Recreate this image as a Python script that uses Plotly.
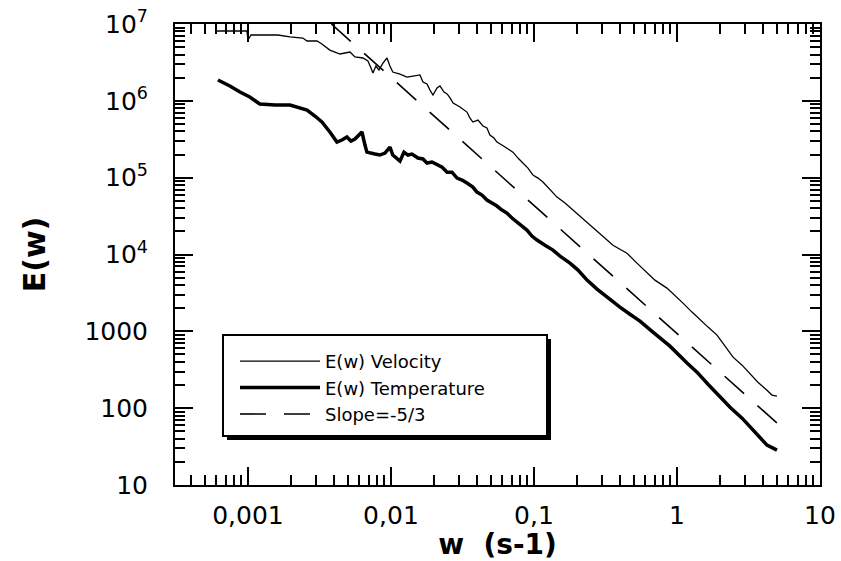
import plotly.graph_objects as go

# ---- data (w in s^-1, E(w)) ----
vel_w = [6.07e-4, 9.84e-4, 1.0e-3, 1.05e-3, 1.62e-3, 1.97e-3, 2.42e-3, 2.59e-3, 3.04e-3, 3.29e-3,
         3.74e-3, 4.40e-3, 5.17e-3, 5.60e-3, 6.37e-3, 6.90e-3, 7.25e-3, 7.48e-3, 7.85e-3, 8.24e-3,
         8.79e-3, 9.38e-3, 9.84e-3, 0.0103, 0.01156, 0.01294, 0.01425, 0.01595, 0.01674, 0.01786,
         0.01875, 0.01967, 0.0210, 0.0220, 0.0235, 0.0247, 0.0259, 0.0272, 0.0304, 0.0340,
         0.0357, 0.0374, 0.0406, 0.0440, 0.0469, 0.0492, 0.0525, 0.0551, 0.0597, 0.0647,
         0.0713, 0.0773, 0.0837, 0.0908, 0.0984, 0.1067, 0.1156, 0.1294, 0.1449, 0.1648,
         0.1875, 0.2203, 0.2588, 0.304, 0.357, 0.399, 0.447, 0.525, 0.617, 0.701,
         0.851, 0.968, 1.101, 1.273, 1.449, 1.648, 1.905, 2.168, 2.466, 2.851,
         3.236, 3.68, 4.26, 4.61, 5.0]
vel_E = [8.11e6, 8.11e6, 6.19e6, 7.19e6, 7.19e6, 6.78e6, 6.57e6, 6.01e6, 6.01e6, 5.49e6,
         4.58e6, 4.07e6, 4.32e6, 3.72e6, 3.61e6, 3.30e6, 2.67e6, 2.30e6, 2.84e6, 2.52e6,
         3.10e6, 3.61e6, 2.84e6, 2.37e6, 2.23e6, 2.04e6, 2.10e6, 2.17e6, 1.76e6, 1.66e6,
         1.38e6, 1.19e6, 1.47e6, 1.56e6, 1.30e6, 1.23e6, 1.09e6, 9.36e5, 8.30e5, 7.14e5,
         5.97e5, 5.30e5, 5.62e5, 4.70e5, 4.43e5, 3.59e5, 3.28e5, 2.91e5, 2.66e5, 2.43e5,
         2.15e5, 1.80e5, 1.55e5, 1.33e5, 1.08e5, 9.88e4, 8.77e4, 6.90e4, 5.58e4, 4.67e4,
         3.78e4, 2.98e4, 2.28e4, 1.74e4, 1.32e4, 1.17e4, 1.04e4, 7730, 5730, 4640,
         3650, 2870, 2330, 1780, 1400, 1135, 893, 641, 461, 363,
         286, 218, 171, 148, 143]

temp_w = [6.17e-4, 7.48e-4, 8.79e-4, 1.03e-3, 1.21e-3, 1.55e-3, 1.97e-3, 2.31e-3, 2.59e-3, 2.94e-3,
          3.29e-3, 3.74e-3, 4.19e-3, 4.54e-3, 4.92e-3, 5.25e-3, 5.60e-3, 6.07e-3, 6.27e-3, 6.58e-3,
          6.79e-3, 7.73e-3, 8.37e-3, 9.08e-3, 9.53e-3, 9.84e-3, 0.0103, 0.0110, 0.01156, 0.01233,
          0.01315, 0.01403, 0.01545, 0.01674, 0.01786, 0.01936, 0.0210, 0.0228, 0.0247, 0.0267,
          0.0290, 0.0314, 0.0340, 0.0374, 0.0399, 0.0433, 0.0469, 0.0508, 0.0551, 0.0597,
          0.0647, 0.0702, 0.0760, 0.0824, 0.0893, 0.0968, 0.1050, 0.1194, 0.1358, 0.1521,
          0.1786, 0.2032, 0.235, 0.276, 0.324, 0.368, 0.399, 0.469, 0.551, 0.679,
          0.798, 0.893, 1.175, 1.380, 1.648, 2.000, 2.350, 2.851, 3.40, 3.80,
          4.26, 5.0]
temp_E = [1.87e6, 1.56e6, 1.30e6, 1.12e6, 9.08e5, 8.81e5, 8.81e5, 8.05e5, 7.59e5, 6.34e5,
          5.30e5, 3.93e5, 2.91e5, 3.09e5, 3.38e5, 3.00e5, 3.18e5, 3.70e5, 3.93e5, 2.66e5,
          2.15e5, 2.03e5, 1.97e5, 2.09e5, 2.29e5, 2.50e5, 1.97e5, 1.80e5, 1.64e5, 2.15e5,
          1.97e5, 2.03e5, 1.80e5, 1.75e5, 1.55e5, 1.60e5, 1.46e5, 1.37e5, 1.18e5, 1.18e5,
          9.88e4, 9.31e4, 8.51e4, 7.55e4, 6.49e4, 5.93e4, 5.11e4, 4.67e4, 4.27e4, 3.78e4,
          3.46e4, 2.98e4, 2.64e4, 2.34e4, 2.08e4, 1.74e4, 1.54e4, 1.32e4, 1.14e4, 9530,
          7730, 6270, 4640, 3540, 2790, 2330, 2070, 1670, 1360, 977,
          767, 641, 386, 294, 205, 139, 103, 74.1, 51.8, 40.6,
          33.0, 28.4]

slope_w = [0.00383, 5.0]
slope_E = [1.0e7, 64.0]

x_tickvals = [0.001, 0.01, 0.1, 1, 10]
x_ticktext = ["0,001", "0,01", "0,1", "1", "10"]
y_tickvals = [1e7, 1e6, 1e5, 1e4, 1000, 100, 10]
y_ticktext = ["10<sup>7</sup>", "10<sup>6</sup>", "10<sup>5</sup>", "10<sup>4</sup>", "1000", "100", "10"]

FONT = "DejaVu Sans"

fig = go.Figure()
fig.add_trace(go.Scatter(x=vel_w, y=vel_E, mode="lines", name="E(w) Velocity",
                         line=dict(color="black", width=1.3)))
fig.add_trace(go.Scatter(x=temp_w, y=temp_E, mode="lines", name="E(w) Temperature",
                         line=dict(color="black", width=3.5)))
fig.add_trace(go.Scatter(x=slope_w, y=slope_E, mode="lines", name="Slope=-5/3",
                         line=dict(color="black", width=1.6, dash="26px,18px")))

axis_common = dict(
    type="log", showline=True, linewidth=2, linecolor="black", mirror="ticks",
    ticks="inside", ticklen=18, tickwidth=2, tickcolor="black",
    showgrid=False, zeroline=False, tickmode="array", automargin=False,
    tickfont=dict(family=FONT, size=25, color="black"),
    minor=dict(ticks="inside", ticklen=10, tickwidth=2, tickcolor="black",
               dtick="D1", showgrid=False),
)

fig.update_layout(
    width=841, height=561, autosize=False,
    margin=dict(l=175, r=21, t=24, b=76),
    paper_bgcolor="white", plot_bgcolor="white",
    xaxis=dict(axis_common, range=[-3.51, 1.0], tickvals=x_tickvals, ticktext=x_ticktext,
               ticklabelstandoff=7,
               title=dict(text="w\u00a0\u00a0(s-1)", standoff=12,
                          font=dict(family=FONT, size=28, color="black", weight="bold"))),
    yaxis=dict(axis_common, range=[1.0, 7.0], tickvals=y_tickvals, ticktext=y_ticktext,
               ticklabelstandoff=20,
               title=dict(text="E(w)", standoff=30,
                          font=dict(family=FONT, size=30, color="black", weight="bold"))),
    showlegend=True,
    legend=dict(x=(235 - 175) / 645, y=(485 - 343) / 461, xanchor="left", yanchor="top",
                bgcolor="rgba(0,0,0,0)", borderwidth=0, itemwidth=80,
                font=dict(family=FONT, size=18, color="black")),
    shapes=[
        dict(type="rect", xref="paper", yref="paper", layer="above",
             x0=(227 - 175) / 645, x1=(551 - 175) / 645,
             y0=(485 - 440) / 461, y1=(485 - 339) / 461,
             fillcolor="black", line=dict(width=0)),
        dict(type="rect", xref="paper", yref="paper", layer="above",
             x0=(223 - 175) / 645, x1=(547 - 175) / 645,
             y0=(485 - 436) / 461, y1=(485 - 335) / 461,
             fillcolor="white", line=dict(color="black", width=2)),
    ],
)

fig.write_html("out.html")
